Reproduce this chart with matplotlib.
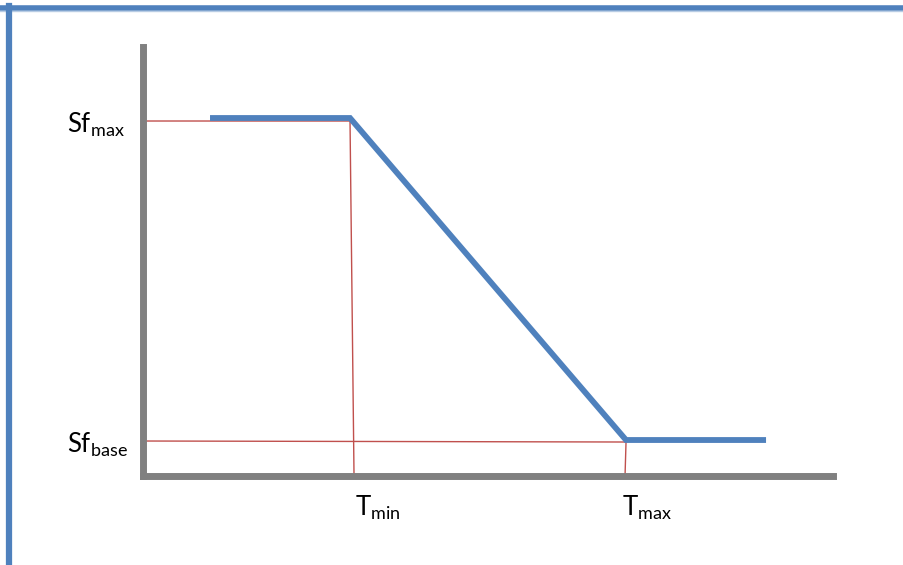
import matplotlib
matplotlib.use("Agg")
import matplotlib.pyplot as plt
from matplotlib.lines import Line2D

plt.rcParams["font.family"] = ["Lato", "DejaVu Sans"]
plt.rcParams["mathtext.fontset"] = "custom"
plt.rcParams["mathtext.rm"] = "Lato"

BLUE = "#4F81BD"
RED = "#C0504D"
GRAY = "#808080"

# key points (axis units)
t_min, t_max = 207, 483
sf_max, sf_base = 358, 36

# scaling-factor curve
curve_x = [67, t_min, t_max, 623]
curve_y = [sf_max, sf_max, sf_base, sf_base]

# thin guide lines (hand drawn, slightly off)
guide_top_x = [0, t_min, 211]
guide_top_y = [355, 355, 0]
guide_base_x = [0, t_max, 482]
guide_base_y = [35, 34, 0]

fig = plt.figure(figsize=(9.04, 5.65), dpi=100)

# blue frame on top and left
fig.add_artist(Line2D([0.0, 1.0], [0.986, 0.986], color=BLUE, lw=4.0,
                      transform=fig.transFigure))
fig.add_artist(Line2D([0.0, 1.0], [0.980, 0.980], color="#B8CCE4", lw=1.0,
                      transform=fig.transFigure))
fig.add_artist(Line2D([0.0099, 0.0099], [0.0, 0.989], color=BLUE, lw=4.5,
                      transform=fig.transFigure))

ax = fig.add_axes([0.1582, 0.1575, 0.7633, 0.7593])
ax.set_xlim(0, 690)
ax.set_ylim(0, 429)

ax.plot(guide_top_x, guide_top_y, color=RED, lw=1.0)
ax.plot(guide_base_x, guide_base_y, color=RED, lw=1.0)
ax.plot(curve_x, curve_y, color=BLUE, lw=4.2, solid_capstyle="butt",
        solid_joinstyle="miter")

for s in ["top", "right"]:
    ax.spines[s].set_visible(False)
for s in ["left", "bottom"]:
    ax.spines[s].set_color(GRAY)
    ax.spines[s].set_linewidth(5)
    ax.spines[s].set_capstyle("projecting")
ax.set_xticks([])
ax.set_yticks([])

fs = 18.5
ax.text(-18, 344, r"Sf$_{\mathrm{max}}$", ha="right", va="baseline",
        fontsize=fs, clip_on=False)
ax.text(-15, 24, r"Sf$_{\mathrm{base}}$", ha="right", va="baseline",
        fontsize=fs, clip_on=False)
ax.text(t_min + 5, -39, r"T$_{\mathrm{min}}$", ha="left", va="baseline",
        fontsize=fs, clip_on=False)
ax.text(t_max - 4, -39, r"T$_{\mathrm{max}}$", ha="left", va="baseline",
        fontsize=fs, clip_on=False)

fig.savefig("out.png", dpi=100)
